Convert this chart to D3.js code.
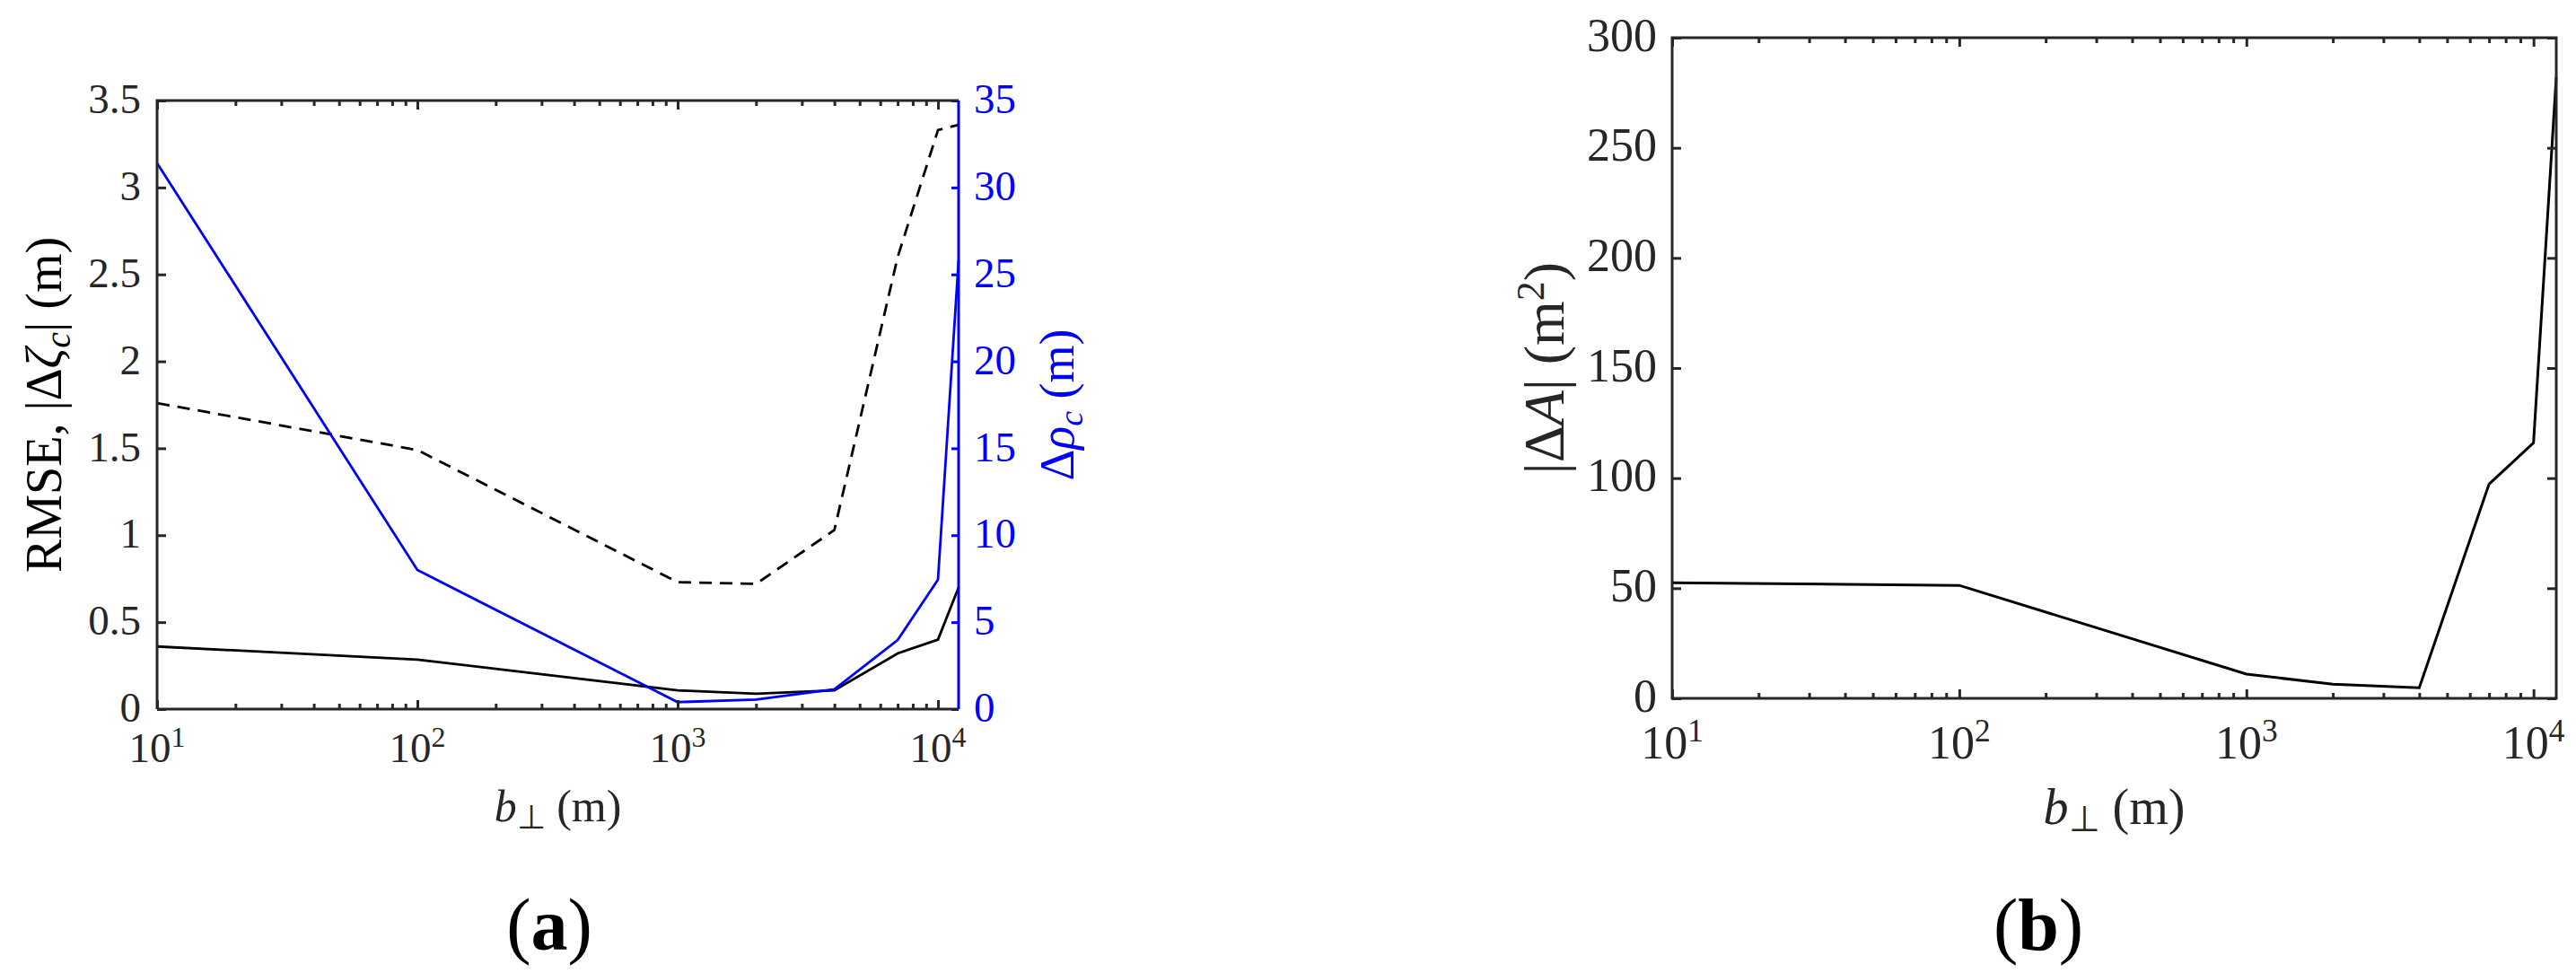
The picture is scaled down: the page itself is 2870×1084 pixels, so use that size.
<!DOCTYPE html>
<html><head><meta charset="utf-8">
<script src="https://cdn.jsdelivr.net/npm/d3@7"></script>
<style>
html,body{margin:0;padding:0;background:#fff;}
text{font-family:"Liberation Serif","Times New Roman",serif;}
</style></head>
<body>
<svg id="chart" width="2870" height="1084"></svg>
<script>
// ---- data ----
const bperp = [10, 100, 1000, 2000, 4000, 7000, 10000, 12000];
const rmse = [0.36, 0.285, 0.108, 0.088, 0.108, 0.32, 0.40, 0.70];
const dZeta = [1.76, 1.49, 0.73, 0.72, 1.03, 2.6, 3.33, 3.36];
const dRho = [31.4, 8.0, 0.4, 0.55, 1.14, 3.97, 7.45, 25.8];
const dArea = [52.5, 51.3, 11.0, 6.4, 4.8, 97.3, 116, 282];
const leftTicks = [0, 0.5, 1, 1.5, 2, 2.5, 3, 3.5];
const leftTickLabels = ["0", "0.5", "1", "1.5", "2", "2.5", "3", "3.5"];
const rhoTicks = [0, 5, 10, 15, 20, 25, 30, 35];
const areaTicks = [0, 50, 100, 150, 200, 250, 300];
const xDomain = [10, 12000];

const svg = d3.select("#chart");
const AX = "#262626";

function logAxes(g, x, yTop, yBot, labelOffset, fs) {
  const all = x.ticks();
  const majors = all.filter(v => Math.abs(Math.log10(v) - Math.round(Math.log10(v))) < 1e-9);
  const minors = all.filter(v => !majors.includes(v));
  const mk = (axisFn, ticks, size, y) => {
    const a = g.append("g").attr("transform", `translate(0,${y})`)
      .call(axisFn(x).tickValues(ticks).tickSize(size).tickFormat(""));
    a.select(".domain").remove();
    a.selectAll("line").attr("stroke", AX).attr("stroke-width", 3);
  };
  mk(d3.axisBottom, majors, -10, yBot);
  mk(d3.axisBottom, minors, -6, yBot);
  mk(d3.axisTop, majors, -10, yTop);
  mk(d3.axisTop, minors, -6, yTop);
  majors.forEach(v => {
    const t = g.append("text").attr("x", x(v)).attr("y", yBot + labelOffset)
      .attr("text-anchor", "middle").attr("font-size", fs).attr("fill", AX);
    t.append("tspan").text("10");
    t.append("tspan").attr("dy", -fs * 0.36).attr("font-size", fs * 0.68).text(Math.round(Math.log10(v)));
  });
}

// ================= Panel (a) =================
const A = {l: 175, r: 1068, t: 112, b: 790};
const xa = d3.scaleLog().domain(xDomain).range([A.l, A.r]);
const ya = d3.scaleLinear().domain([0, 3.5]).range([A.b, A.t]);
const yr = d3.scaleLinear().domain([0, 35]).range([A.b, A.t]);
const ga = svg.append("g");

const lineA = d3.line().x((d, i) => xa(bperp[i])).y(d => ya(d));
const lineR = d3.line().x((d, i) => xa(bperp[i])).y(d => yr(d));
ga.append("path").attr("d", lineA(dZeta)).attr("fill", "none").attr("stroke", "#000")
  .attr("stroke-width", 2.8).attr("stroke-dasharray", "14,9");
ga.append("path").attr("d", lineA(rmse)).attr("fill", "none").attr("stroke", "#000").attr("stroke-width", 2.8);
ga.append("path").attr("d", lineR(dRho)).attr("fill", "none").attr("stroke", "#0000ff").attr("stroke-width", 2.8);

logAxes(ga, xa, A.t, A.b, 59, 47);

{
  const a = ga.append("g").attr("transform", `translate(${A.l},0)`)
    .call(d3.axisLeft(ya).tickValues(leftTicks).tickSize(-10).tickFormat(""));
  a.select(".domain").remove();
  a.selectAll("line").attr("stroke", AX).attr("stroke-width", 3);
  leftTicks.forEach((v, i) => {
    ga.append("text").attr("x", A.l - 18).attr("y", ya(v)).attr("dy", "0.3em")
      .attr("text-anchor", "end").attr("font-size", 47).attr("fill", AX).text(leftTickLabels[i]);
  });
}
{
  const a = ga.append("g").attr("transform", `translate(${A.r},0)`)
    .call(d3.axisRight(yr).tickValues(rhoTicks).tickSize(-8).tickFormat(""));
  a.select(".domain").remove();
  a.selectAll("line").attr("stroke", "#0000ff").attr("stroke-width", 3);
  rhoTicks.forEach(v => {
    ga.append("text").attr("x", A.r + 17).attr("y", yr(v)).attr("dy", "0.3em")
      .attr("text-anchor", "start").attr("font-size", 47).attr("fill", "#0000ff").text(v);
  });
}
ga.append("path").attr("d", `M${A.l},${A.b}V${A.t}H${A.r}`).attr("fill", "none").attr("stroke", AX).attr("stroke-width", 3);
ga.append("path").attr("d", `M${A.l},${A.b}H${A.r}`).attr("fill", "none").attr("stroke", AX).attr("stroke-width", 3);
ga.append("line").attr("x1", A.r).attr("x2", A.r).attr("y1", A.t).attr("y2", A.b).attr("stroke", "#0000ff").attr("stroke-width", 3);

{
  const t = ga.append("text").attr("transform", `translate(68,${(A.t + A.b) / 2}) rotate(-90)`)
    .attr("text-anchor", "middle").attr("font-size", 56).attr("fill", "#000");
  t.append("tspan").text("RMSE, |Δ");
  t.append("tspan").attr("font-style", "italic").text("ζ");
  t.append("tspan").attr("font-style", "italic").attr("font-size", 40).attr("dy", 10).text("c");
  t.append("tspan").attr("dy", -10).text("| (m)");

  const r = ga.append("text").attr("transform", `translate(1196,${(A.t + A.b) / 2}) rotate(-90)`)
    .attr("text-anchor", "middle").attr("font-size", 54).attr("fill", "#0000ff");
  r.append("tspan").text("Δ");
  r.append("tspan").attr("font-style", "italic").text("ρ");
  r.append("tspan").attr("font-style", "italic").attr("font-size", 38).attr("dy", 10).text("c");
  r.append("tspan").attr("dy", -10).text(" (m)");

  const xl = ga.append("text").attr("x", (A.l + A.r) / 2).attr("y", 915)
    .attr("text-anchor", "middle").attr("font-size", 50).attr("fill", AX);
  xl.append("tspan").attr("font-style", "italic").text("b");
  xl.append("tspan").attr("font-size", 37).attr("dy", 8).text("⊥");
  xl.append("tspan").attr("dy", -8).text(" (m)");

  const pa = ga.append("text").attr("x", 612).attr("y", 1058).attr("text-anchor", "middle")
    .attr("font-size", 82).attr("fill", "#000");
  pa.append("tspan").text("(");
  pa.append("tspan").attr("font-weight", "bold").text("a");
  pa.append("tspan").text(")");
}

// ================= Panel (b) =================
const B = {l: 1863, r: 2848, t: 42, b: 778};
const xb = d3.scaleLog().domain(xDomain).range([B.l, B.r]);
const yb = d3.scaleLinear().domain([0, 300]).range([B.b, B.t]);
const gb = svg.append("g");
const lineB = d3.line().x((d, i) => xb(bperp[i])).y(d => yb(d));
gb.append("path").attr("d", lineB(dArea)).attr("fill", "none").attr("stroke", "#000").attr("stroke-width", 3);

logAxes(gb, xb, B.t, B.b, 67, 52);
{
  const a = gb.append("g").attr("transform", `translate(${B.l},0)`)
    .call(d3.axisLeft(yb).tickValues(areaTicks).tickSize(-10).tickFormat(""));
  a.select(".domain").remove();
  a.selectAll("line").attr("stroke", AX).attr("stroke-width", 3);
  const a2 = gb.append("g").attr("transform", `translate(${B.r},0)`)
    .call(d3.axisRight(yb).tickValues(areaTicks).tickSize(-10).tickFormat(""));
  a2.select(".domain").remove();
  a2.selectAll("line").attr("stroke", AX).attr("stroke-width", 3);
  areaTicks.forEach(v => {
    gb.append("text").attr("x", B.l - 17).attr("y", yb(v)).attr("dy", "0.28em")
      .attr("text-anchor", "end").attr("font-size", 52).attr("fill", AX).text(v);
  });
}
gb.append("rect").attr("x", B.l).attr("y", B.t).attr("width", B.r - B.l).attr("height", B.b - B.t)
  .attr("fill", "none").attr("stroke", AX).attr("stroke-width", 3);
{
  const t = gb.append("text").attr("transform", `translate(1742,${(B.t + B.b) / 2}) rotate(-90)`)
    .attr("text-anchor", "middle").attr("font-size", 64).attr("fill", AX);
  t.append("tspan").text("|Δ");
  t.append("tspan").attr("font-style", "italic").text("A");
  t.append("tspan").text("| (m");
  t.append("tspan").attr("font-size", 44).attr("dy", -22).text("2");
  t.append("tspan").attr("dy", 22).text(")");

  const xl = gb.append("text").attr("x", (B.l + B.r) / 2).attr("y", 918)
    .attr("text-anchor", "middle").attr("font-size", 56).attr("fill", AX);
  xl.append("tspan").attr("font-style", "italic").text("b");
  xl.append("tspan").attr("font-size", 40).attr("dy", 8).text("⊥");
  xl.append("tspan").attr("dy", -8).text(" (m)");

  const pb = gb.append("text").attr("x", 2271).attr("y", 1058).attr("text-anchor", "middle")
    .attr("font-size", 82).attr("fill", "#000");
  pb.append("tspan").text("(");
  pb.append("tspan").attr("font-weight", "bold").text("b");
  pb.append("tspan").text(")");
}
</script>
</body></html>
